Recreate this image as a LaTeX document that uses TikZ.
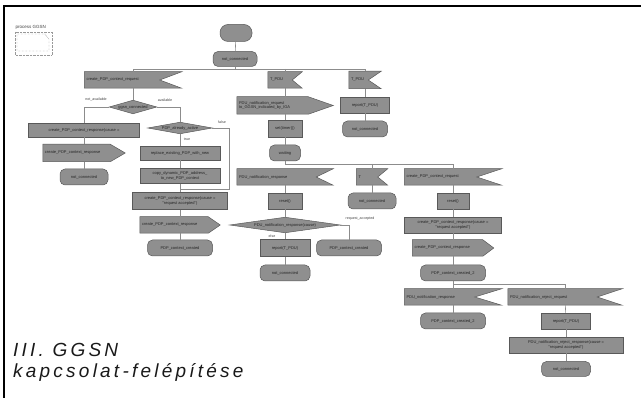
\documentclass[tikz,border=0pt]{standalone}
\usepackage{fontspec}
\setmainfont{Liberation Sans}
\newfontfamily\capfont[LetterSpace=17]{Liberation Sans}
\usetikzlibrary{backgrounds}

\begin{document}
\begin{tikzpicture}
  [
    x=1pt, y=-1pt,
    boxline/.style={draw=black!65, fill=black!44, line width=0.5pt},
    box/.style={boxline, inner sep=0pt,
      font=\fontsize{4}{4.6}\selectfont, text=black!85, align=center},
    task/.style={box, rectangle},
    sdlstate/.style={box, rectangle, rounded corners=5pt},
    sdlsig/.style={box, draw=none, fill=none, align=left, inner xsep=2pt, text width=#1},
    choice/.style={box, draw=none, fill=none},
    flow/.style={draw=black!45, line width=0.6pt},
    tag/.style={font=\fontsize{3.6}{4}\selectfont, text=black!75, inner sep=0.5pt}
  ]
  \useasboundingbox (0,0) rectangle (641,398);
  % frame
  \draw[line width=1.4pt] (4,398) -- (4,6) -- (641,6);
  \node[tag, anchor=west, font=\fontsize{4.5}{5}\selectfont] (proc) at (15,27) {process GGSN};
  \draw[densely dotted, black!40, line width=0.4pt] (15,32) rectangle (52,55);
  \draw[densely dotted, black!60, line width=0.4pt] (17,34) -- (45,34) -- (49,39) -- (49,51) -- (17,51) -- cycle;

  % states
  \node[sdlstate, rounded corners=8pt, minimum width=32, minimum height=17] (start) at (236,33) {};
  \node[sdlstate, minimum width=44, minimum height=15] (s0)   at (235,59)  {not\_connected};
  \node[sdlstate, minimum width=48, minimum height=16] (st1)  at (84,177)  {not\_connected};
  \node[sdlstate, minimum width=65, minimum height=16] (st2)  at (180,248) {PDP\_context\_created};
  \node[sdlstate, minimum width=31, minimum height=16] (st3)  at (285,153) {waiting};
  \node[sdlstate, minimum width=48, minimum height=16] (st4)  at (372,201) {not\_connected};
  \node[sdlstate, minimum width=65, minimum height=16] (st5)  at (349,248) {PDP\_context\_created};
  \node[sdlstate, minimum width=50, minimum height=16] (st6)  at (285,273) {not\_connected};
  \node[sdlstate, minimum width=65, minimum height=16] (st7)  at (453,273) {PDP\_context\_created\_2};
  \node[sdlstate, minimum width=65, minimum height=16] (st8)  at (453,321) {PDP\_context\_created\_2};
  \node[sdlstate, minimum width=49, minimum height=15] (st9)  at (566,369) {not\_connected};
  \node[sdlstate, minimum width=45, minimum height=16] (st10) at (365,129) {not\_connected};

  % inputs
  \node[sdlsig=93pt, minimum height=16]  (in1) at (133,80)  {create\_PDP\_context\_request};
  \node[sdlsig=30pt, minimum height=16]  (in2) at (285,80)  {T\_PDU};
  \node[sdlsig=28pt, minimum height=17]  (in8) at (365,80)  {T\_PDU};
  \node[sdlsig=92pt, minimum height=16]  (in3) at (285,177) {PDU\_notification\_response};
  \node[sdlsig=27pt, minimum height=16]  (in4) at (372,177) {T};
  \node[sdlsig=93pt, minimum height=16]  (in5) at (453,177) {create\_PDP\_context\_request};
  \node[sdlsig=93pt, minimum height=16]  (in6) at (453,297) {PDU\_notification\_response};
  \node[sdlsig=110pt, minimum height=16] (in7) at (565,297) {PDU\_notification\_reject\_request};

  % outputs
  \node[sdlsig=78pt, minimum height=17] (out1) at (84,153)    {create\_PDP\_context\_response};
  \node[sdlsig=76pt, minimum height=16] (out2) at (180,225)   {create\_PDP\_context\_response};
  \node[sdlsig=92pt, minimum height=17] (out3) at (285,105.5) {PDU\_notification\_request\\to\_GGSN\_indicated\_by\_IGA};
  \node[sdlsig=77pt, minimum height=16] (out4) at (453,248)   {create\_PDP\_context\_response};

  % tasks
  \node[task, minimum width=111, minimum height=14] (t1)  at (84,130)   {create\_PDP\_context\_response(cause =};
  \node[task, minimum width=80, minimum height=14]  (t2)  at (180,153)  {replace\_existing\_PDP\_with\_new};
  \node[task, minimum width=80, minimum height=15]  (t3)  at (180,176)  {copy\_dynamic\_PDP\_address\_\\to\_new\_PDP\_context};
  \node[task, minimum width=95, minimum height=17]  (t4)  at (180,201)  {create\_PDP\_context\_response(cause =\\"request accepted")};
  \node[task, minimum width=34, minimum height=17]  (t5)  at (285,128.5) {set(timer())};
  \node[task, minimum width=34, minimum height=16]  (t6)  at (285,201)  {reset()};
  \node[task, minimum width=32, minimum height=16]  (t7)  at (453,201)  {reset()};
  \node[task, minimum width=50, minimum height=17]  (t8)  at (285,248)  {report(T\_PDU)};
  \node[task, minimum width=97, minimum height=16]  (t9)  at (453,225)  {create\_PDP\_context\_response(cause =\\"request accepted")};
  \node[task, minimum width=49, minimum height=16]  (t10) at (566,321)  {report(T\_PDU)};
  \node[task, minimum width=114, minimum height=16] (t11) at (566,345)  {PDU\_notification\_reject\_response(cause =\\"request accepted")};
  \node[task, minimum width=49, minimum height=16]  (t12) at (365,105)  {report(T\_PDU)};

  % decisions
  \node[choice, minimum width=47, minimum height=13]  (dec1) at (133,107) {ggsn\_connected};
  \node[choice, minimum width=64, minimum height=11]  (dec2) at (180,128) {PDP\_already\_active};
  \node[choice, minimum width=110, minimum height=15] (dec3) at (285,225) {PDU\_notification\_response(cause)};

  % shapes behind the texts
  \begin{scope}[on background layer]
    \foreach \n/\d in {in1/22, in2/10, in8/13, in3/17, in4/10, in5/25, in6/27, in7/25} {
      \draw[boxline] (\n.north west) -- (\n.north east) -- ([xshift=-\d]\n.east)
        -- (\n.south east) -- (\n.south west) -- cycle;
    }
    \foreach \n/\d in {out1/15, out2/12, out3/25, out4/11} {
      \draw[boxline] (\n.north west) -- ([xshift=-\d]\n.north east) -- (\n.east)
        -- ([xshift=-\d]\n.south east) -- (\n.south west) -- cycle;
    }
    \foreach \n in {dec1, dec2, dec3} {
      \draw[boxline] (\n.west) -- (\n.north) -- (\n.east) -- (\n.south) -- cycle;
    }
  \end{scope}

  % labels
  \node[tag] (l1) at (96,100)  {not\_available};
  \node[tag] (l2) at (165,100) {available};
  \node[tag] (l3) at (222,122) {false};
  \node[tag] (l4) at (187,139) {true};
  \node[tag] (l5) at (360,219) {request\_accepted};
  \node[tag] (l6) at (272,236) {else};

  % branch points
  \coordinate (br0) at (235,69);
  \coordinate (br1) at (285,164);
  \coordinate (br2) at (453,284);
  \coordinate (join) at (180,189);

  % flow lines
  \foreach \a/\b in {start/s0, in1/dec1, t1/out1, out1/st1, dec2/t2, t2/t3, t3/t4, t4/out2,
      out2/st2, in2/out3, out3/t5, t5/st3, in3/t6, t6/dec3, dec3/t8, t8/st6, in4/st4,
      in5/t7, t7/t9, t9/out4, out4/st7, st7/in6, in6/st8, in7/t10, t10/t11, t11/st9,
      in8/t12, t12/st10} {
    \draw[flow] (\a) -- (\b);
  }
  \draw[flow] (s0) -- (br0);
  \draw[flow] (br0) -| (in1.north);
  \draw[flow] (br0) -| (in8.north);
  \draw[flow] (br0 -| in2.north) -- (in2.north);
  \draw[flow] (dec1.west) -| (t1.north);
  \draw[flow] (dec1.east) -| (dec2.north);
  \draw[flow] (dec2.east) -- ++(17,0) |- (join);
  \draw[flow] (st3) -- (br1) -| (in5.north);
  \draw[flow] (br1 -| in4.north) -- (in4.north);
  \draw[flow] (dec3.east) -| (st5.north);
  \draw[flow] (br2) -| (in7.north);

  % caption
  \node[anchor=base west, inner sep=0pt, text=black!90, font=\capfont\itshape\fontsize{19}{21}\selectfont] (cap1) at (13,357) {III. GGSN};
  \node[anchor=base west, inner sep=0pt, text=black!90, font=\capfont\itshape\fontsize{19}{21}\selectfont] (cap2) at (13,378) {kapcsolat-felépítése};
\end{tikzpicture}
\end{document}
